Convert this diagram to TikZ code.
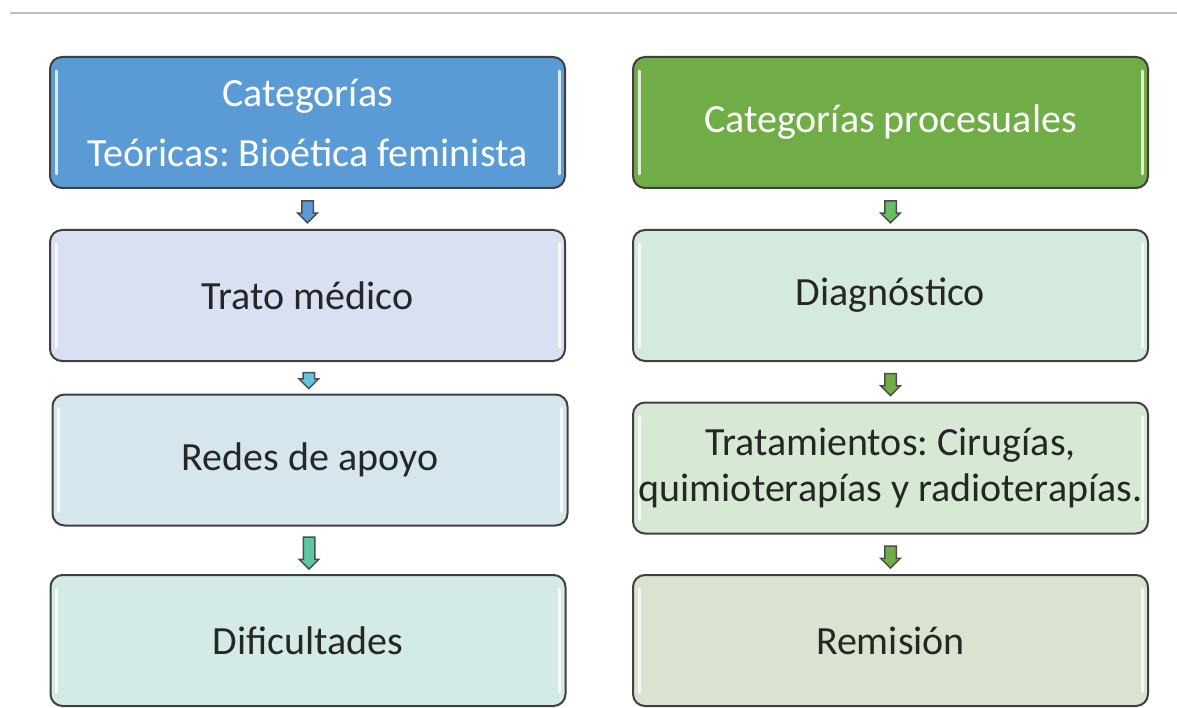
\documentclass[tikz,border=0pt]{standalone}
\usepackage{fontspec}
\setmainfont{Carlito}
\usetikzlibrary{shapes.arrows,calc}
\definecolor{azul}{HTML}{5B9BD5}
\definecolor{verde}{HTML}{70AD47}
\frenchspacing
\begin{document}
\begin{tikzpicture}[x=1pt,y=-1pt,
	caja/.style={draw=black!75,line width=2pt,rounded corners=12pt,minimum width=515pt,minimum height=131pt,inner xsep=2pt,align=center,font=\fontsize{40}{46}\selectfont,text=black!85,
		path picture={\draw[white,line width=3pt,opacity=.8,line cap=round] ([xshift=6pt,yshift=-14pt]path picture bounding box.north west) -- ([xshift=6pt,yshift=14pt]path picture bounding box.south west);
			\draw[white,line width=3pt,opacity=.8,line cap=round] ([xshift=-6pt,yshift=-14pt]path picture bounding box.north east) -- ([xshift=-6pt,yshift=14pt]path picture bounding box.south east);}},
	flecha/.style={draw=black!70,line width=1.5pt,single arrow,shape border rotate=270,inner xsep=5pt,inner ysep=0pt,minimum width=19pt,single arrow head extend=4pt,minimum height=22pt}]
		\useasboundingbox (0,0) rectangle (1177,708);
		\draw[black!25,line width=1.5pt] (10,13) -- (1177,13);
		
		\node[caja,fill=azul,text=white] (l1) at (307.5,122.5) {Categorías\\[14pt]Teóricas: Bioética feminista};
		\node[caja,fill={rgb,255:red,217;green,224;blue,241}] (l2) at (307.5,295.5) {Trato médico};
		\node[caja,fill={rgb,255:red,213;green,230;blue,236}] (l3) at (310,460) {Redes de apoyo};
		\node[caja,fill={rgb,255:red,211;green,234;blue,230}] (l4) at (308,640.5) {Dificultades};
		
		\node[caja,fill=verde,text=white] (r1) at (890.5,122.5) {Categorías procesuales};
		\node[caja,fill={rgb,255:red,212;green,234;blue,220}] (r2) at (890.5,295.5) {Diagnóstico};
		\node[caja,fill={rgb,255:red,215;green,233;blue,212}] (r3) at (890.5,468) {Tratamientos: Cirugías,\\quimioterapías y radioterapías.};
		\node[caja,fill={rgb,255:red,218;green,227;blue,207}] (r4) at (890.5,640.5) {Remisión};
		
		\node[flecha,fill=azul] (a1) at ($(l1.south)!.5!(l2.north)$) {};
		\node[flecha,fill={rgb,255:red,100;green,196;blue,222},minimum height=16pt] (a2) at ($(l2.south)!.5!(l3.north)$) {};
		\node[flecha,fill={rgb,255:red,92;green,200;blue,160},minimum height=32pt] (a3) at ($(l3.south)!.5!(l4.north)$) {};
		\node[flecha,fill={rgb,255:red,104;green,190;blue,100}] (a4) at ($(r1.south)!.5!(r2.north)$) {};
		\node[flecha,fill=verde] (a5) at ($(r2.south)!.5!(r3.north)$) {};
		\node[flecha,fill=verde] (a6) at ($(r3.south)!.5!(r4.north)$) {};
		\end{tikzpicture}
\end{document}
